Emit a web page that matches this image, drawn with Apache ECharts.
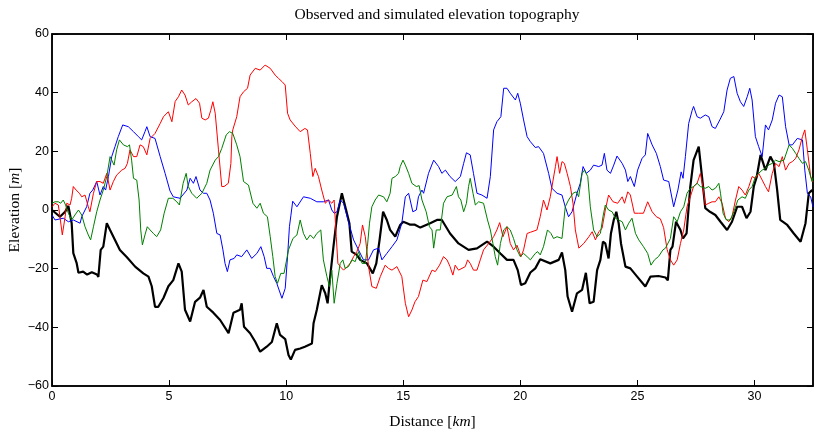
<!DOCTYPE html>
<html><head><meta charset="utf-8">
<script src="https://cdn.jsdelivr.net/npm/echarts@6/dist/echarts.min.js"></script>
<style>html,body{margin:0;padding:0;background:#fff}#c{width:814px;height:432px}</style>
</head><body><div id="c"></div>
<script>
const titleText = 'Observed and simulated elevation topography';
const xTicks = [0, 5, 10, 15, 20, 25, 30];
const yTicks = [-60, -40, -20, 0, 20, 40, 60];

const blackX = [0,0.34,0.56,0.7,0.84,0.91,1.05,1.13,1.33,1.5,1.7,1.92,1.98,2.05,2.08,2.19,2.34,2.48,2.69,2.9,3.19,3.55,3.9,4.12,4.26,4.4,4.54,4.76,4.97,5.18,5.4,5.54,5.68,5.9,6.11,6.32,6.47,6.61,6.89,7.18,7.54,7.75,8.03,8.1,8.2,8.46,8.68,8.89,9.17,9.39,9.6,9.74,9.96,10.1,10.2,10.38,10.6,10.8,11.1,11.17,11.31,11.52,11.67,11.77,11.88,12.02,12.17,12.38,12.45,12.56,12.7,12.8,13.02,13.16,13.45,13.7,13.85,13.99,14.14,14.3,14.44,14.66,14.87,15.0,15.16,15.3,15.5,15.73,16.15,16.44,16.65,17.0,17.36,17.79,18.15,18.58,18.86,19.15,19.43,19.71,19.89,20.03,20.21,20.43,20.64,20.85,21.28,21.64,21.78,21.92,22.02,22.21,22.42,22.64,22.8,22.96,23.13,23.28,23.42,23.53,23.63,23.77,23.87,23.99,24.1,24.2,24.3,24.49,24.7,24.99,25.34,25.56,25.9,26.2,26.3,26.41,26.5,26.65,26.84,26.95,27.1,27.26,27.4,27.62,27.76,27.9,28.1,28.33,28.55,28.83,29.04,29.26,29.47,29.66,29.83,29.97,30.1,30.26,30.47,30.68,30.83,30.97,31.1,31.4,31.68,31.97,32.18,32.32,32.46,32.5];
const blackY = [0,-2.3,-0.6,1.4,-4.5,-14.7,-18,-21.4,-21,-22,-21.2,-22,-22.8,-22.6,-13.6,-12.5,-4.5,-6.8,-10.2,-13.6,-16,-19.3,-21.6,-22.7,-26,-33,-33,-30,-26,-23.9,-18.2,-21,-34,-38,-31.3,-29.9,-27.3,-33,-35,-37.5,-42,-35,-34,-31.8,-39.8,-42,-44.9,-48.3,-46.6,-45,-38.6,-42.6,-44,-49.4,-51,-47.7,-47.2,-46.6,-45.5,-38.6,-34,-25.6,-28.4,-31.8,-22.7,-12.5,-2.3,5.7,6,0,-4.5,-14.2,-15.3,-17,-18.2,-21.6,-18.2,-10.2,-0.6,-3.4,-6.8,-9.1,-5.1,-4,-4.5,-5,-5,-6,-4.5,-3.4,-3.4,-8,-11.4,-13.6,-13.1,-10.8,-12.5,-14.8,-17,-17,-20.5,-25.6,-25,-21.3,-19.9,-16.8,-18.2,-17,-14.5,-20.5,-29.5,-34.7,-28.4,-27.2,-21.4,-31.8,-31.3,-20.5,-17,-10.8,-11.4,-16.5,-8,-3.4,-0.6,-4.5,-11.4,-19.3,-19.9,-22.7,-26.1,-22.7,-22.5,-23,-24,-13.6,-12.5,-4,-6.8,-9.7,-8,8,17,21.6,11.4,0.6,-0.6,-1.7,-4,-6.8,-4,1.1,1.1,-2.8,-0.6,8,11.4,18.8,13.6,18.2,15.9,6.8,-3.4,-5.1,-8,-10.8,-4.5,5.7,6.8,6];

const blueX = [0,0.13,0.48,0.7,0.91,1.2,1.27,1.48,1.62,1.74,1.91,2.05,2.19,2.29,2.41,2.55,2.69,2.83,3.02,3.26,3.48,3.69,3.83,3.97,4.05,4.19,4.4,4.62,4.83,5.04,5.18,5.47,5.76,5.9,6.04,6.15,6.32,6.47,6.61,6.75,6.89,7.04,7.18,7.3,7.39,7.49,7.6,7.78,7.89,8.1,8.32,8.53,8.75,8.92,9.06,9.17,9.32,9.46,9.6,9.82,9.96,10.06,10.14,10.2,10.28,10.46,10.74,11.03,11.31,11.59,11.81,11.95,12.05,12.17,12.31,12.45,12.66,12.88,13.09,13.3,13.52,13.73,13.95,14.09,14.3,14.52,14.73,14.94,15.09,15.23,15.41,15.56,15.65,15.8,15.87,16.08,16.3,16.51,16.65,16.8,17.0,17.22,17.44,17.58,17.7,17.86,18.0,18.15,18.36,18.58,18.72,18.86,19.0,19.17,19.29,19.43,19.57,19.79,19.89,20.0,20.14,20.29,20.43,20.64,20.78,20.99,21.21,21.35,21.57,21.78,21.92,22.06,22.21,22.42,22.56,22.68,22.82,22.99,23.13,23.35,23.49,23.59,23.7,23.85,23.99,24.13,24.35,24.49,24.59,24.7,24.87,25.01,25.2,25.34,25.44,25.63,25.81,25.98,26.12,26.34,26.55,26.73,26.87,26.95,27.05,27.19,27.34,27.4,27.55,27.69,27.9,28.05,28.19,28.33,28.52,28.69,28.83,28.97,29.12,29.26,29.4,29.54,29.69,29.8,29.9,30.04,30.18,30.33,30.47,30.6,30.76,30.9,31.05,31.19,31.33,31.48,31.62,31.83,32.05,32.15,32.26,32.4,32.5];
const blueY = [-1.7,-3.4,-2.8,-4,-3.4,-4.5,-2.3,1.1,5.7,6.8,9.7,5.1,8,6.8,11.4,18.2,21.6,25,29,28.4,26.7,25,23.9,26.7,28.4,25,24.4,18.2,12.5,6.5,4.5,4,6.8,10.8,9.1,11.4,6.8,5.7,5.7,3.4,-1.1,-8,-8.5,-13.6,-18.2,-21,-17,-16.5,-15.3,-15.9,-13.6,-16.5,-14.8,-12.5,-15.9,-19.9,-19.9,-22.7,-25,-30.1,-26.7,-15.9,-5.7,-2,3,1.1,4.5,4,2.8,2.8,3.4,0,-1.1,-0.6,3.4,2.3,-4,-10.2,-13.6,-17,-17,-13.6,-13,-17,-14.8,-12.5,-10.2,-4.5,4.5,5.7,-0.6,0,4.5,6.8,5.7,12.5,17,14.8,12.5,13.6,11.4,9.7,11.4,15.9,19.5,18.8,12.5,5.7,5.1,4,11.4,27.3,30.1,31.8,41.5,41.5,39.8,37.5,39.8,36.4,30.7,25,23.3,21.3,21.6,19.3,12.5,7.4,5.7,5.1,1.1,-2.3,-0.6,5.7,9.1,14.8,12.5,13.6,15.3,14.8,15.3,19.3,13.6,12.5,15.3,18.4,15.9,13.6,9.7,11.4,8,13.6,17.6,18.8,26.1,22.2,19.3,14.8,10.2,9.7,1.1,6.8,13,10.8,18.2,29.5,34,35.3,31.8,31.3,32.4,31.8,28.4,27.8,30.7,33.5,40.9,44.9,45.5,39.8,36.9,35.3,38.6,41.5,37.5,25,21.6,18.2,29,27.3,30.7,36.4,39.2,38.6,28.4,22.2,22.2,24.4,23.9,13.6,5.7,4.5,1];

const redX = [0,0.13,0.27,0.34,0.44,0.56,0.63,0.77,0.84,0.91,1.03,1.17,1.27,1.41,1.55,1.62,1.77,1.91,2.05,2.19,2.34,2.48,2.62,2.76,2.98,3.12,3.22,3.33,3.48,3.62,3.76,3.9,4.05,4.19,4.4,4.62,4.76,4.97,5.12,5.26,5.4,5.54,5.68,5.82,5.97,6.15,6.3,6.4,6.54,6.68,6.78,6.87,6.97,7.11,7.25,7.35,7.53,7.64,7.68,7.72,7.89,8.03,8.18,8.35,8.46,8.68,8.89,9.1,9.32,9.53,9.67,9.82,9.96,10.06,10.17,10.38,10.6,10.8,10.91,11.03,11.14,11.24,11.38,11.52,11.67,11.81,11.95,12.05,12.14,12.21,12.31,12.45,12.6,12.74,12.88,13.02,13.16,13.26,13.38,13.52,13.66,13.85,14.02,14.23,14.37,14.52,14.73,14.94,15.09,15.23,15.37,15.5,15.65,15.84,16.01,16.23,16.37,16.55,16.72,16.87,17.0,17.12,17.22,17.36,17.51,17.65,17.75,17.86,18.0,18.15,18.29,18.43,18.65,18.86,19.0,19.12,19.26,19.43,19.57,19.71,19.86,20.03,20.14,20.29,20.43,20.71,20.85,20.99,21.14,21.28,21.4,21.5,21.57,21.68,21.78,21.88,22.0,22.14,22.25,22.35,22.5,22.71,22.93,23.07,23.21,23.35,23.49,23.63,23.77,23.96,24.16,24.35,24.45,24.59,24.7,24.87,25.05,25.26,25.44,25.63,25.81,25.98,26.12,26.27,26.41,26.55,26.7,26.84,26.98,27.12,27.26,27.4,27.55,27.69,27.8,27.9,28.05,28.19,28.33,28.48,28.62,28.76,28.9,29.04,29.19,29.33,29.47,29.61,29.76,29.9,30.04,30.18,30.33,30.47,30.6,30.76,30.9,31.05,31.19,31.33,31.48,31.62,31.76,31.9,32.05,32.15,32.26,32.4,32.5];
const redY = [1.1,2.3,1.7,-2.3,-8.5,-2.3,2.3,1.7,4,8,6.8,5.7,4.5,5.1,1.1,-0.6,5.7,9.7,9.7,9.1,12.5,6.8,9.7,11.9,13.6,14.2,15.9,20.5,18.2,18.2,22.2,21.6,18.8,24.4,26.1,29.5,31.8,33.5,30.1,37,38.6,40.9,39.2,35.8,36.9,38,36.4,31.3,30.7,31.3,34,36.9,33,20.5,8,8,9.1,15.9,25,27.3,31.8,38.6,40.3,41.5,46,48.3,47.7,49.4,48.3,46,44.9,43.8,42.6,33,30.7,28.6,26.7,27.8,27.3,19.3,11.4,14.2,11.4,6.8,2.3,3.4,2.3,3.4,-9.1,-18.2,-19.3,-20.5,-19.3,-18.2,-15.9,-14.2,-11.4,-5.1,-9.1,-19.3,-26.1,-26.7,-22.7,-18.8,-19.9,-20.5,-19.3,-22.7,-31.8,-36.4,-34.1,-31.3,-29.5,-23.9,-24.4,-20.5,-21,-18.8,-15.9,-17,-19.3,-22.2,-18.8,-20.5,-19.9,-19.3,-17,-18.2,-20.5,-20.5,-17,-13.6,-11.4,-9.1,-6.8,-4.3,-9.1,-5.7,-11.4,-13.6,-12,-15.9,-13.6,-8,-7.6,-6.8,-2.3,3.4,0,4.5,10.2,14.8,18.2,12.5,16.5,15.9,12.5,8,2.3,-6.8,-13,-11.4,-9.1,-7.4,-10.2,-7.4,-6.3,0,5.1,2.8,2.3,4.5,2.3,6.2,5.1,-1.1,-1.1,-1.1,2.8,-0.6,-2.3,-3,-6,-13.5,-17,-18.8,-17,-11.4,-6.8,1.1,4.5,8,9.1,12.5,8,1.7,2.3,2.8,2.8,4.5,2.3,-2.8,-4,-2.3,3.4,8,6.8,5.1,8,11.4,10.8,12.5,10.2,8,6.2,12.5,15.9,14.8,18.2,13.6,15.9,16.5,17.6,20.5,25,27.3,20.5,11.4,9.5];

const greenX = [0,0.13,0.27,0.37,0.48,0.58,0.7,0.84,0.98,1.13,1.27,1.41,1.55,1.65,1.77,1.91,2.05,2.19,2.34,2.48,2.55,2.65,2.76,2.88,3.05,3.22,3.31,3.4,3.48,3.62,3.72,3.79,3.86,3.97,4.07,4.19,4.33,4.47,4.64,4.79,4.97,5.16,5.33,5.44,5.6,5.73,5.82,5.97,6.18,6.4,6.61,6.75,6.97,7.11,7.25,7.44,7.58,7.72,7.89,8.03,8.18,8.39,8.58,8.75,8.89,9.03,9.2,9.32,9.43,9.53,9.63,9.77,9.91,10.1,10.29,10.46,10.6,10.74,10.88,11.03,11.17,11.31,11.48,11.59,11.74,11.85,11.95,12.05,12.17,12.31,12.42,12.52,12.66,12.81,12.95,13.09,13.24,13.38,13.47,13.56,13.66,13.8,13.95,14.16,14.3,14.44,14.52,14.66,14.8,14.87,14.99,15.09,15.23,15.37,15.56,15.68,15.8,15.98,16.12,16.23,16.3,16.41,16.58,16.72,16.87,17.09,17.27,17.36,17.46,17.58,17.7,17.79,17.86,17.98,18.08,18.22,18.43,18.6,18.72,18.83,18.93,19.03,19.15,19.29,19.43,19.57,19.71,19.86,20.0,20.14,20.29,20.43,20.64,20.74,20.85,20.99,21.16,21.31,21.42,21.57,21.78,21.92,22.06,22.25,22.39,22.49,22.64,22.74,22.88,22.99,23.13,23.28,23.42,23.53,23.63,23.77,23.92,24.06,24.2,24.35,24.49,24.63,24.77,24.92,25.06,25.26,25.44,25.58,25.73,25.9,26.09,26.2,26.41,26.55,26.7,26.84,26.98,27.12,27.26,27.4,27.55,27.69,27.9,28.05,28.19,28.33,28.48,28.55,28.66,28.8,28.97,29.12,29.29,29.47,29.61,29.76,29.9,30.04,30.18,30.33,30.47,30.6,30.76,30.9,31.05,31.26,31.48,31.62,31.76,31.9,32.05,32.18,32.32,32.46,32.5];
const greenY = [2.3,2.8,2.8,2.3,3.4,1.7,-1.1,-3.4,-1.7,0,-1.7,-5.7,-8.5,-10.2,-5.7,-0.6,3.4,6.8,11.4,18.2,17.6,15.3,20.5,23.9,22.2,21.6,22.2,17,10.8,10.2,3.4,-6.8,-11.9,-8.5,-5.7,-6.8,-8,-9.1,-6.8,-1.1,4,4,2.8,1.7,9.1,12.5,8,5.7,4,5.7,9.1,13.6,17,18.2,21,25.6,26.7,26.1,22.2,18.2,9.7,8.5,2.3,0.6,2.3,-1.1,-2.3,-9.1,-15.9,-22.7,-25,-21.6,-21.6,-13.6,-9.7,-8.5,-3.4,-8,-10.2,-8.5,-9.7,-8,-6.8,-17,-22.7,-26.1,-20.5,-31.8,-25,-18.2,-17,-19.9,-19.3,-17,-17.6,-14.2,-18.2,-18.2,-12.5,-4.5,1.1,3.4,5.1,4.5,2.8,5.7,10.8,11.4,12.5,14.8,17,15.3,12.5,9.1,8,8.3,3.4,-0.6,-5.7,-6.8,-13,-6.8,-6.8,2.3,4.5,5.1,8,4.5,3.4,-0.6,2.3,8,10.8,5.7,1.7,2.8,2.3,-3.4,-6.8,-11.4,-15.9,-18.8,-11.4,-6.8,-5.7,-6.8,-9.7,-13.6,-15.9,-14.8,-15.9,-17,-14.8,-14.2,-15.3,-12.5,-6.8,-8,-9.7,-9.1,-9.7,1.1,3.4,5.7,6.2,4.5,12.5,13.6,11.4,1.1,-6.8,-9.1,-8,-2.3,1.7,0,-0.6,-2.8,-3.4,-4,-6.8,-4.5,-2.8,-8,-10.2,-12.5,-14.8,-18.8,-17,-15.9,-13.6,-13,-9.7,-2.3,-4,-0.6,1.1,5.7,7.4,8,9.1,8,7.4,8,6.8,7.4,9.1,5.7,-1.1,-3.4,-3.4,-0.6,3.4,4.5,4,6.8,8,11.4,12.5,13.6,14.2,15.3,15.9,17,16.5,17,22.2,21,19.3,17.6,15.9,16.5,13.6,9.7,11];

function pairs(xs, ys) { return xs.map((x, i) => [x, ys[i]]); }

const chart = echarts.init(document.getElementById('c'), null, { renderer: 'canvas' });
const tickFont = { fontFamily: 'Liberation Sans, Arial, sans-serif', fontSize: 12.5, color: '#000' };
const serif = 'Liberation Serif, Times New Roman, serif';
const labFont = 15.5;
function fmt(v) { return String(v).replace('-', '\u2212'); }
function lbl(v) { return xTicks.indexOf(v) >= 0 ? fmt(v) : ''; }
function ylbl(v) { return yTicks.indexOf(v) >= 0 ? fmt(v) : ''; }

const axisBase = {
  type: 'value', splitLine: { show: false },
  axisLine: { show: true, onZero: false, lineStyle: { color: '#000', width: 1.5 } },
  axisTick: { show: true, inside: true, length: 6, lineStyle: { color: '#000', width: 1 } }
};
const richUnits = {
  it: { fontFamily: serif, fontSize: labFont, fontStyle: 'italic', fill: '#000', color: '#000' },
  n: { fontFamily: serif, fontSize: labFont, fill: '#000', color: '#000' }
};

chart.setOption({
  animation: false,
  backgroundColor: '#fff',
  title: {
    text: titleText, left: 432, top: 2, textAlign: 'center',
    textStyle: { fontFamily: serif, fontSize: labFont, fontWeight: 'normal', color: '#000' }
  },
  graphic: [{
    type: 'text', x: 15, y: 210, rotation: Math.PI / 2, silent: true,
    style: {
      text: '{n|Elevation [}{it|m}{n|]}', rich: richUnits,
      font: labFont + 'px ' + serif, fill: '#000', align: 'center', verticalAlign: 'middle'
    }
  }],
  grid: { left: 52, right: 1, top: 34, bottom: 46, show: true, borderColor: '#000', borderWidth: 1.5,
          containLabel: false, outerBoundsMode: 'none' },
  xAxis: [
    Object.assign({}, axisBase, {
      min: 0, max: 32.5, interval: 5, position: 'bottom',
      axisLabel: Object.assign({ formatter: lbl, margin: 4, showMaxLabel: false }, tickFont),
      name: '{n|Distance [}{it|km}{n|]}', nameLocation: 'middle', nameGap: 28,
      nameTextStyle: { fontFamily: serif, fontSize: labFont, color: '#000', rich: richUnits }
    }),
    Object.assign({}, axisBase, {
      min: 0, max: 32.5, interval: 5, position: 'top', axisLabel: { show: false }
    })
  ],
  yAxis: [
    Object.assign({}, axisBase, {
      min: -60, max: 60, interval: 20, position: 'left',
      axisLabel: Object.assign({ formatter: ylbl, margin: 3 }, tickFont)
    }),
    Object.assign({}, axisBase, {
      min: -60, max: 60, interval: 20, position: 'right', axisLabel: { show: false }
    })
  ],
  series: [
    { name: 'Observed', type: 'line', data: pairs(blackX, blackY), showSymbol: false, symbol: 'none', clip: true,
      lineStyle: { color: '#000', width: 2.2 } },
    { name: 'Simulation 1', type: 'line', data: pairs(blueX, blueY), showSymbol: false, symbol: 'none', clip: true,
      lineStyle: { color: '#0000ff', width: 1 } },
    { name: 'Simulation 2', type: 'line', data: pairs(redX, redY), showSymbol: false, symbol: 'none', clip: true,
      lineStyle: { color: '#ff0000', width: 1 } },
    { name: 'Simulation 3', type: 'line', data: pairs(greenX, greenY), showSymbol: false, symbol: 'none', clip: true,
      lineStyle: { color: '#008000', width: 1 } }
  ]
});
</script></body></html>
